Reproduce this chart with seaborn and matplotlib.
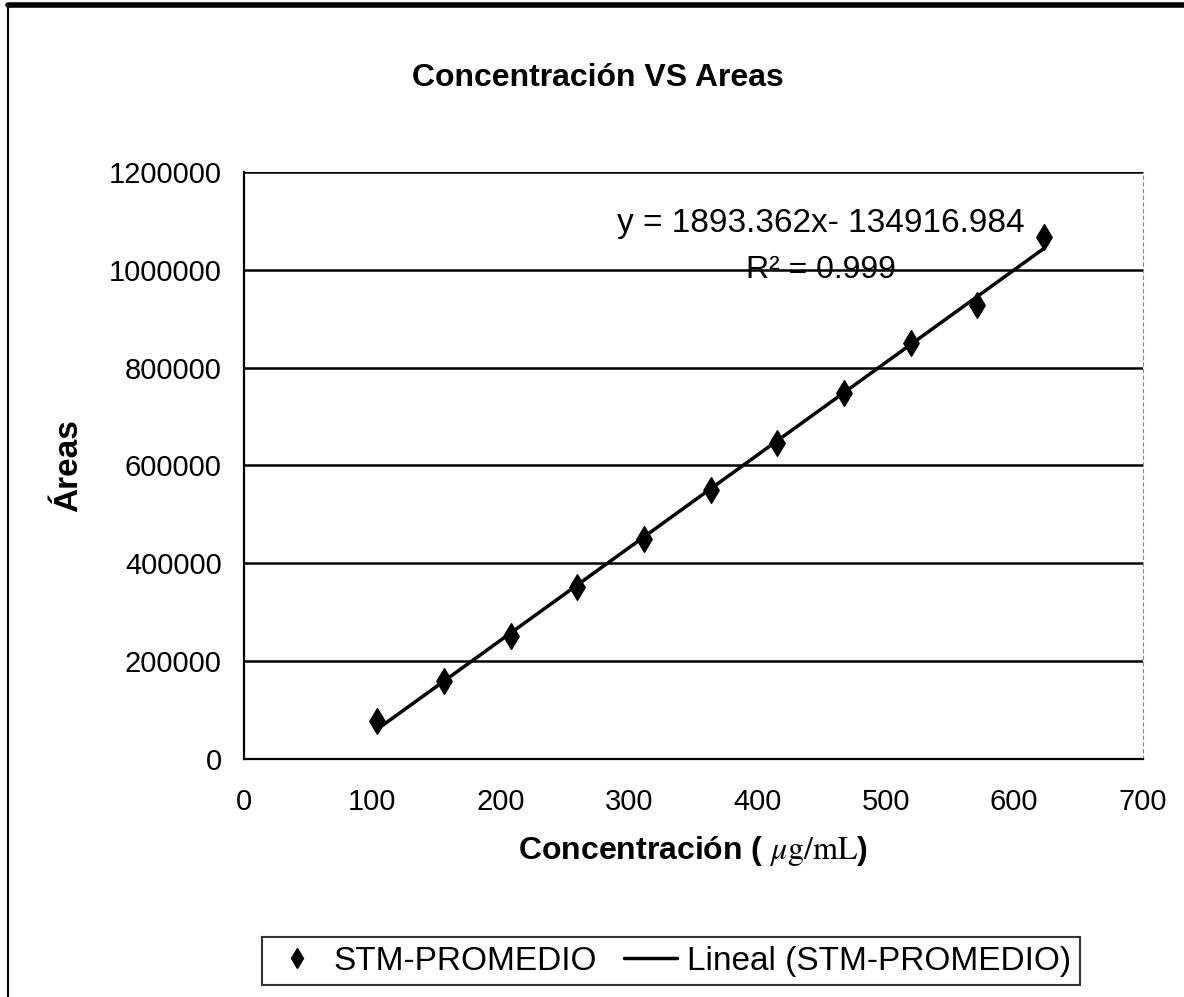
import numpy as np
import matplotlib
matplotlib.use('Agg')
import matplotlib.pyplot as plt
import seaborn as sns
from matplotlib.lines import Line2D

# Concentracion (ug/mL) y areas promedio
concentracion = [103.9, 155.8, 207.8, 259.7, 311.6, 363.6, 415.5, 467.5, 519.4, 571.3, 623.3]
areas = [77000, 160000, 251000, 351000, 450000, 549000, 645000, 748000, 850000, 928000, 1068000]
x_ticks = [0, 100, 200, 300, 400, 500, 600, 700]
y_ticks = [0, 200000, 400000, 600000, 800000, 1000000, 1200000]
ecuacion = 'y = 1893.362x- 134916.984'
r2_txt = 'R² = 0.999'

sns.set_style('white')
plt.rcParams['font.family'] = ['Liberation Sans', 'DejaVu Sans']
plt.rcParams['mathtext.fontset'] = 'stix'
plt.rcParams['text.color'] = 'black'
plt.rcParams['axes.labelcolor'] = 'black'
plt.rcParams['xtick.color'] = 'black'
plt.rcParams['ytick.color'] = 'black'

fig = plt.figure(figsize=(11.84, 9.97), dpi=100)
ax = fig.add_axes([0.206, 0.2387, 0.759, 0.5888])

sns.regplot(x=concentracion, y=areas, ax=ax, scatter=False, ci=None, truncate=True,
            line_kws={'color': 'black', 'lw': 2.5, 'zorder': 3})
sns.scatterplot(x=concentracion, y=areas, ax=ax, marker='d', s=170, color='black',
                edgecolor='black', zorder=4)

ax.set_xlim(0, 700)
ax.set_ylim(0, 1200000)
ax.set_xticks(x_ticks)
ax.set_yticks(y_ticks)
ax.set_yticklabels([str(v) for v in y_ticks])
ax.tick_params(axis='both', labelsize=21, direction='out', color='black', width=1.2)
ax.tick_params(axis='x', length=7, pad=14)
ax.tick_params(axis='y', length=6, pad=10)

for v in y_ticks[1:]:
    ax.axhline(v, color='black', lw=1.8, zorder=1)

for side in ['left', 'bottom']:
    ax.spines[side].set_color('black')
    ax.spines[side].set_linewidth(1.6)
ax.spines['top'].set_visible(False)
ax.spines['right'].set_color('#888888')
ax.spines['right'].set_linestyle((0, (3, 3)))
ax.spines['right'].set_linewidth(0.8)

ax.text(291, 1095000, ecuacion, fontsize=24, va='center', ha='left')
ax.text(391, 1000000, r2_txt, fontsize=23, va='center', ha='left')

ax.set_xlabel(r'Concentración ( $\mu\mathrm{g/mL}$)', fontsize=23, fontweight='bold')
ax.xaxis.set_label_coords(0.5, -0.128)
ax.set_ylabel('Áreas', fontsize=24, fontweight='bold')
ax.yaxis.set_label_coords(-0.178, 0.5)

fig.text(598 / 1184, 1 - 78 / 997, 'Concentración VS Areas', fontsize=23,
         fontweight='bold', ha='center', va='center')

handles = [
    Line2D([], [], marker='d', color='black', linestyle='none', markersize=10),
    Line2D([], [], color='black', lw=2.5),
]
leg = fig.legend(handles, ['STM-PROMEDIO', 'Lineal (STM-PROMEDIO)'], ncol=2,
                 loc='center', bbox_to_anchor=(671 / 1184, 1 - 961 / 997),
                 fontsize=24, frameon=True, fancybox=False, edgecolor='black',
                 handlelength=1.6, handletextpad=0.3, columnspacing=0.8,
                 borderpad=0.25)
leg.get_frame().set_linewidth(1.5)

# marco exterior
fig.add_artist(Line2D([8 / 1184, 1], [1 - 5 / 997, 1 - 5 / 997], color='black', lw=4,
                      transform=fig.transFigure))
fig.add_artist(Line2D([8 / 1184, 8 / 1184], [0, 1 - 5 / 997], color='black', lw=1.5,
                      transform=fig.transFigure))

fig.savefig('out.png', dpi=100)
